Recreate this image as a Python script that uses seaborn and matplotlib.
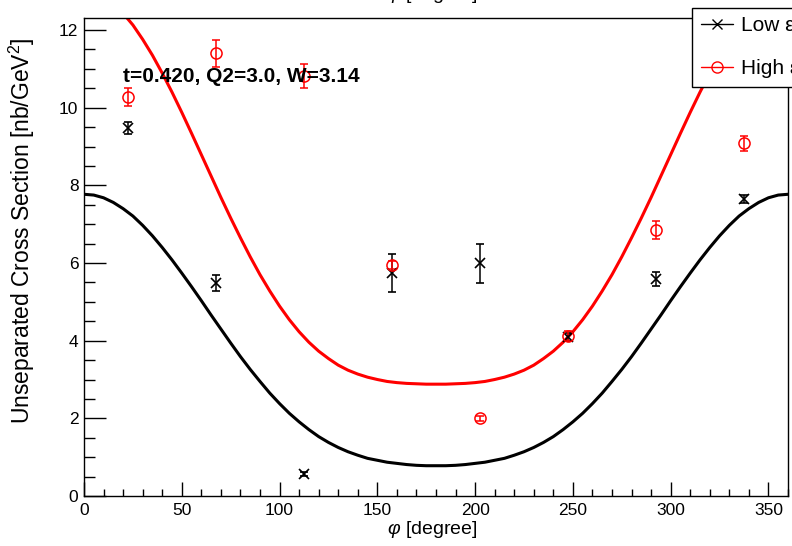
import matplotlib
matplotlib.use("Agg")
import matplotlib.pyplot as plt
from matplotlib.lines import Line2D
from matplotlib.ticker import MultipleLocator
import pandas as pd
import seaborn as sns

# phi bin centres [degree]
phi_bins = [22.5, 67.5, 112.5, 157.5, 202.5, 247.5, 292.5, 337.5]

# unseparated cross sections [nb/GeV^2] and their uncertainties
low_eps = [9.48, 5.49, 0.57, 5.74, 5.99, 4.10, 5.59, 7.65]
low_eps_err = [0.15, 0.20, 0.06, 0.49, 0.50, 0.10, 0.18, 0.10]
high_eps = [10.27, 11.40, 10.82, 5.95, 2.00, 4.12, 6.85, 9.08]
high_eps_err = [0.23, 0.35, 0.30, 0.10, 0.06, 0.12, 0.23, 0.20]

# fitted curves, sampled every 5 degrees
fit_phi = [0, 5, 10, 15, 20, 25, 30, 35, 40, 45, 50, 55, 60, 65, 70, 75, 80, 85,
           90, 95, 100, 105, 110, 115, 120, 125, 130, 135, 140, 145, 150, 155,
           160, 165, 170, 175, 180, 185, 190, 195, 200, 205, 210, 215, 220, 225,
           230, 235, 240, 245, 250, 255, 260, 265, 270, 275, 280, 285, 290, 295,
           300, 305, 310, 315, 320, 325, 330, 335, 340, 345, 350, 355, 360]
fit_low = [7.77, 7.75, 7.68, 7.56, 7.40, 7.21, 6.97, 6.70, 6.40, 6.08, 5.74, 5.39,
           5.03, 4.66, 4.30, 3.94, 3.59, 3.26, 2.95, 2.65, 2.38, 2.13, 1.91, 1.71,
           1.53, 1.38, 1.25, 1.14, 1.05, 0.97, 0.92, 0.87, 0.84, 0.81, 0.79, 0.78,
           0.78, 0.78, 0.79, 0.81, 0.84, 0.87, 0.92, 0.97, 1.05, 1.14, 1.25, 1.38,
           1.53, 1.71, 1.91, 2.13, 2.38, 2.65, 2.95, 3.26, 3.59, 3.94, 4.30, 4.66,
           5.03, 5.39, 5.74, 6.08, 6.40, 6.70, 6.97, 7.21, 7.40, 7.56, 7.68, 7.75,
           7.77]
fit_high = [13.00, 12.96, 12.86, 12.68, 12.43, 12.13, 11.76, 11.35, 10.89, 10.40,
            9.88, 9.34, 8.79, 8.24, 7.69, 7.16, 6.65, 6.16, 5.70, 5.28, 4.89, 4.54,
            4.23, 3.96, 3.73, 3.54, 3.37, 3.24, 3.14, 3.06, 3.00, 2.95, 2.92, 2.90,
            2.89, 2.88, 2.88, 2.88, 2.89, 2.90, 2.92, 2.95, 3.00, 3.06, 3.14, 3.24,
            3.37, 3.54, 3.73, 3.96, 4.23, 4.54, 4.89, 5.28, 5.70, 6.16, 6.65, 7.16,
            7.69, 8.24, 8.79, 9.34, 9.88, 10.40, 10.89, 11.35, 11.76, 12.13, 12.43,
            12.68, 12.86, 12.96, 13.00]

series_labels = ["Low \u03b5", "High \u03b5"]
x_ticks = [0, 50, 100, 150, 200, 250, 300, 350]
y_ticks = [0, 2, 4, 6, 8, 10, 12]

sns.set_theme(style="ticks")
plt.rcParams.update({
    "font.family": ["Liberation Sans", "DejaVu Sans"],
    "mathtext.fontset": "custom",
    "mathtext.rm": "Liberation Sans",
    "mathtext.it": "Liberation Sans:italic",
    "mathtext.bf": "Liberation Sans:bold",
    "text.color": "black",
    "axes.labelcolor": "black",
    "xtick.color": "black",
    "ytick.color": "black",
    "xtick.labelcolor": "black",
    "ytick.labelcolor": "black",
})

W, H = 792, 546
fig = plt.figure(figsize=(W / 100, H / 100), dpi=100)
ax = fig.add_axes([84 / W, 50 / H, 704 / W, 478 / H])

curves = pd.DataFrame({
    "phi": fit_phi * 2,
    "sigma": fit_low + fit_high,
    "set": [series_labels[0]] * len(fit_phi) + [series_labels[1]] * len(fit_phi),
})
palette = {series_labels[0]: "black", series_labels[1]: "#ff0000"}
sns.lineplot(data=curves, x="phi", y="sigma", hue="set", palette=palette,
             estimator=None, sort=False, linewidth=2.2, legend=False, ax=ax,
             zorder=2)

ax.errorbar(phi_bins, low_eps, yerr=low_eps_err, fmt="x", color="black",
            ms=7, mew=1.2, elinewidth=1.1, capsize=3, capthick=1.1, zorder=3)
ax.errorbar(phi_bins, high_eps, yerr=high_eps_err, fmt="o", color="#ff0000",
            mfc="none", mec="#ff0000", ms=8, mew=1.1, elinewidth=1.1,
            capsize=3, capthick=1.1, zorder=3)

ax.set_xlim(0, 360)
ax.set_ylim(0, 12.31)
ax.set_xticks(x_ticks)
ax.set_yticks(y_ticks)
ax.xaxis.set_minor_locator(MultipleLocator(10))
ax.yaxis.set_minor_locator(MultipleLocator(0.5))
ax.tick_params(axis="x", which="major", direction="in", length=10, width=1,
               labelsize=12.5, pad=5)
ax.tick_params(axis="x", which="minor", direction="in", length=5, width=1)
ax.tick_params(axis="y", which="major", direction="in", length=16, width=1,
               labelsize=12.5, pad=4)
ax.tick_params(axis="y", which="minor", direction="in", length=8, width=1)
for side in ["top", "right", "left", "bottom"]:
    ax.spines[side].set_visible(True)
    ax.spines[side].set_color("black")
    ax.spines[side].set_linewidth(1.0)
ax.set_xlabel("")
ax.set_ylabel("")

fig.text(21.5 / W, 1 - 231 / H, "Unseparated Cross Section [nb/GeV$^2$]",
         rotation=90, ha="center", va="center", fontsize=16.5)
fig.text(432 / W, 1 - 530 / H, r"$\varphi$ [degree]", ha="center",
         va="center", fontsize=14)
fig.text(432 / W, 1 - 5 / H, r"$\varphi$ [degree]", ha="center",
         va="bottom", fontsize=14)
fig.text(123 / W, 1 - 77 / H, "t=0.420, Q2=3.0, W=3.14", ha="left",
         va="center", fontsize=15, fontweight="bold")

handles = [
    Line2D([], [], color="black", marker="x", ms=7, mew=1.0, lw=1.0),
    Line2D([], [], color="#ff0000", marker="o", mfc="none", ms=8, mew=1.0, lw=1.0),
]
leg = ax.legend(handles, series_labels, loc="upper left",
                bbox_to_anchor=(692 / W, 1 - 7.7 / H),
                bbox_transform=fig.transFigure, frameon=True, fancybox=False,
                edgecolor="black", framealpha=1, fontsize=15,
                handlelength=1.55, handletextpad=0.4, borderpad=0.42,
                labelspacing=1.15, borderaxespad=0)
leg.get_frame().set_linewidth(1.0)
leg.set_zorder(10)

fig.savefig("out.png", dpi=100)
